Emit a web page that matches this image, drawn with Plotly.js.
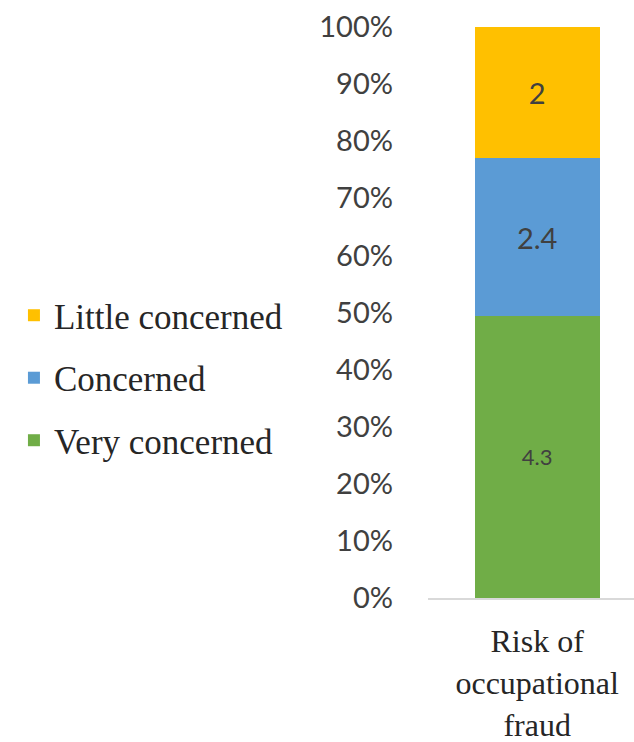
<!DOCTYPE html>
<html>
<head>
<meta charset="utf-8">
<script src="https://cdn.plot.ly/plotly-3.0.1.min.js"></script>
<style>
  html, body { margin: 0; padding: 0; background: #fff; }
  #chart { width: 634px; height: 742px; }
</style>
</head>
<body>
<div id="chart"></div>
<script>
// Single stacked column, normalised to 100%
const categories = ['Risk of<br>occupational<br>fraud'];
const seriesNames = ['Very concerned', 'Concerned', 'Little concerned'];
const veryConcerned = [4.3];
const concerned = [2.4];
const littleConcerned = [2];
const seriesColors = ['#70AD47', '#5B9BD5', '#FFC000'];
const tickValues = [0, 10, 20, 30, 40, 50, 60, 70, 80, 90, 100];

const seriesValues = [veryConcerned, concerned, littleConcerned];
const labelSizes = [22, 29, 29];

const traces = seriesValues.map((vals, i) => ({
  type: 'bar',
  name: seriesNames[i],
  x: categories,
  y: vals,
  text: vals.map(v => String(v)),
  texttemplate: '%{text}',
  textposition: 'inside',
  insidetextanchor: 'middle',
  textangle: 0,
  textfont: { family: 'Lato, sans-serif', size: labelSizes[i], color: '#404040' },
  marker: { color: seriesColors[i], line: { width: 0 } },
  width: 0.607,
  legendgroup: 'g' + i,
  legendrank: 3 - i,
  hoverinfo: 'skip'
}));

const layout = {
  width: 634,
  height: 742,
  margin: { l: 428, r: 0, t: 27, b: 144, pad: 0 },
  paper_bgcolor: '#ffffff',
  plot_bgcolor: '#ffffff',
  barmode: 'stack',
  barnorm: 'percent',
  showlegend: true,
  legend: {
    xref: 'container',
    yref: 'container',
    x: 0.022,
    xanchor: 'left',
    y: 0.4906,
    yanchor: 'middle',
    traceorder: 'grouped',
    tracegroupgap: 14,
    font: { family: '"Liberation Serif", serif', size: 35, color: '#262626' },
    itemwidth: 30,
    bgcolor: 'rgba(0,0,0,0)'
  },
  xaxis: {
    range: [-0.53, 0.47],
    showline: true,
    linecolor: '#d9d9d9',
    linewidth: 2,
    ticks: '',
    showgrid: false,
    zeroline: false,
    ticklabelstandoff: 14,
    tickfont: { family: '"Liberation Serif", serif', size: 32, color: '#262626' },
    fixedrange: true
  },
  yaxis: {
    range: [0, 100],
    tickvals: tickValues,
    ticktext: tickValues.map(v => v + '%'),
    showline: false,
    showgrid: false,
    zeroline: false,
    ticks: '',
    ticklabelstandoff: 34,
    tickfont: { family: 'Lato, sans-serif', size: 29, color: '#404040' },
    fixedrange: true
  }
};

Plotly.newPlot('chart', traces, layout, { displayModeBar: false, staticPlot: true });
</script>
</body>
</html>
